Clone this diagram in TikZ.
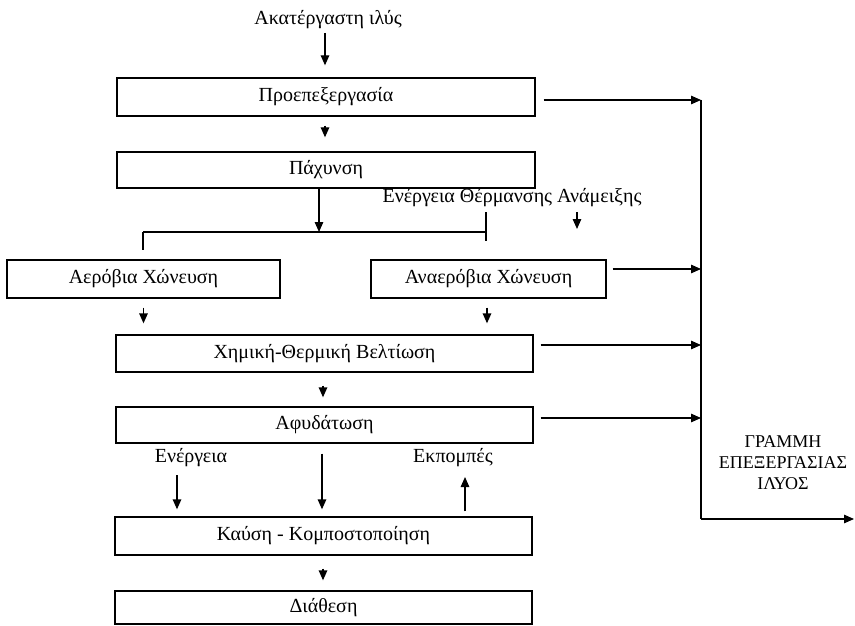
\documentclass[tikz,border=0pt]{standalone}
\usepackage{fontspec}
\setmainfont{Liberation Serif}
\usetikzlibrary{arrows.meta}

\tikzset{
  stagebox/.style={draw, line width=1.3pt, rectangle, inner sep=0pt,
                   minimum width=#1, font=\fontsize{20}{24}\selectfont},
  stagebox/.default=418pt,
  arr/.style={line width=1.3pt, -{Triangle[length=10pt,width=8.5pt]}},
  plain/.style={line width=1.3pt},
  lbl/.style={inner sep=0pt, font=\fontsize{20}{24}\selectfont}
}

\begin{document}
\begin{tikzpicture}[x=1pt, y=-1pt]
  \useasboundingbox (0,0) rectangle (855,626);

  % process stages
  \node[stagebox, minimum height=38pt] (pre)  at (326,97)    {Προεπεξεργασία};
  \node[stagebox, minimum height=36pt] (pax)  at (326,170)   {Πάχυνση};
  \node[stagebox=273pt, minimum height=38pt] (aer) at (143.5,279) {Αερόβια Χώνευση};
  \node[stagebox=235pt, minimum height=38pt] (ana) at (488.5,279) {Αναερόβια Χώνευση};
  \node[stagebox=417pt, minimum height=37pt] (chem) at (324.5,353.5) {Χημική-Θερμική Βελτίωση};
  \node[stagebox=417pt, minimum height=36pt] (afy)  at (324.5,425)   {Αφυδάτωση};
  \node[stagebox=417pt, minimum height=38pt] (kaf)  at (323.5,536)   {Καύση - Κομποστοποίηση};
  \node[stagebox=417pt, minimum height=33pt] (diath) at (323.5,607.5) {Διάθεση};

  % labels
  \node[lbl] (raw)  at (328,20)  {Ακατέργαστη ιλύς};
  \node[lbl] (heat) at (512,198) {Ενέργεια Θέρμανσης Ανάμειξης};
  \node[lbl] (ener) at (191,458) {Ενέργεια};
  \node[lbl] (emis) at (453,458) {Εκπομπές};
  \node[lbl, align=center, font=\fontsize{18}{21}\selectfont] (line) at (783,463)
        {ΓΡΑΜΜΗ\\ΕΠΕΞΕΡΓΑΣΙΑΣ\\ΙΛΥΟΣ};

  % main flow
  \coordinate (rawA) at (325,33);
  \draw[arr, shorten >=12pt] (rawA) -- (rawA |- pre.north);
  \draw[arr, shorten <=9pt, shorten >=14pt] (pre.south -| rawA) -- (pax.north -| rawA);

  % split towards the two digestion routes
  \coordinate (fM) at (319,232);
  \coordinate (fL) at (143,232);
  \coordinate (fR) at (486,232);
  \draw[arr] (pax.south -| fM) -- (fM);
  \draw[plain] (fL) -- (fR);
  \draw[plain, shorten >=9pt] (fL) -- (fL |- aer.north);
  \draw[plain, shorten >=18pt] ([yshift=20pt]fR) -- (fR |- ana.north);
  \coordinate (h1) at (577,212);
  \coordinate (h2) at (577,229);
  \draw[arr] (h1) -- (h2);

  % into conditioning
  \draw[arr, shorten <=9pt, shorten >=11pt] (aer.south) -- (aer.south |- chem.north);
  \coordinate (anaX) at (487,0);
  \draw[arr, shorten <=9pt, shorten >=11pt] (ana.south -| anaX) -- (chem.north -| anaX);
  \coordinate (cX) at (323,0);
  \draw[arr, shorten <=13pt, shorten >=9pt] (chem.south -| cX) -- (afy.north -| cX);

  % dewatering to incineration / composting
  \coordinate (mX) at (322,0);
  \draw[arr, shorten <=10pt, shorten >=7pt] (afy.south -| mX) -- (kaf.north -| mX);
  \coordinate (eA) at (177,475);
  \draw[arr, shorten >=7pt] (eA) -- (eA |- kaf.north);
  \coordinate (eB) at (465,477);
  \draw[arr, shorten <=5pt] (eB |- kaf.north) -- (eB);
  \draw[arr, shorten <=13pt, shorten >=10pt] (kaf.south -| cX) -- (diath.north -| cX);

  % sludge treatment line collector
  \coordinate (b1) at (701,100);
  \coordinate (b2) at (701,269);
  \coordinate (b3) at (701,345);
  \coordinate (b4) at (701,418);
  \coordinate (b5) at (701,519);
  \coordinate (out) at (854,519);
  \draw[arr, shorten <=8pt] (pre.east |- b1) -- (b1);
  \draw[arr, shorten <=6pt] (ana.east |- b2) -- (b2);
  \draw[arr, shorten <=7pt] (chem.east |- b3) -- (b3);
  \draw[arr, shorten <=7pt] (afy.east |- b4) -- (b4);
  \draw[plain] (b1) -- (b5);
  \draw[arr] (b5) -- (out);
\end{tikzpicture}
\end{document}
